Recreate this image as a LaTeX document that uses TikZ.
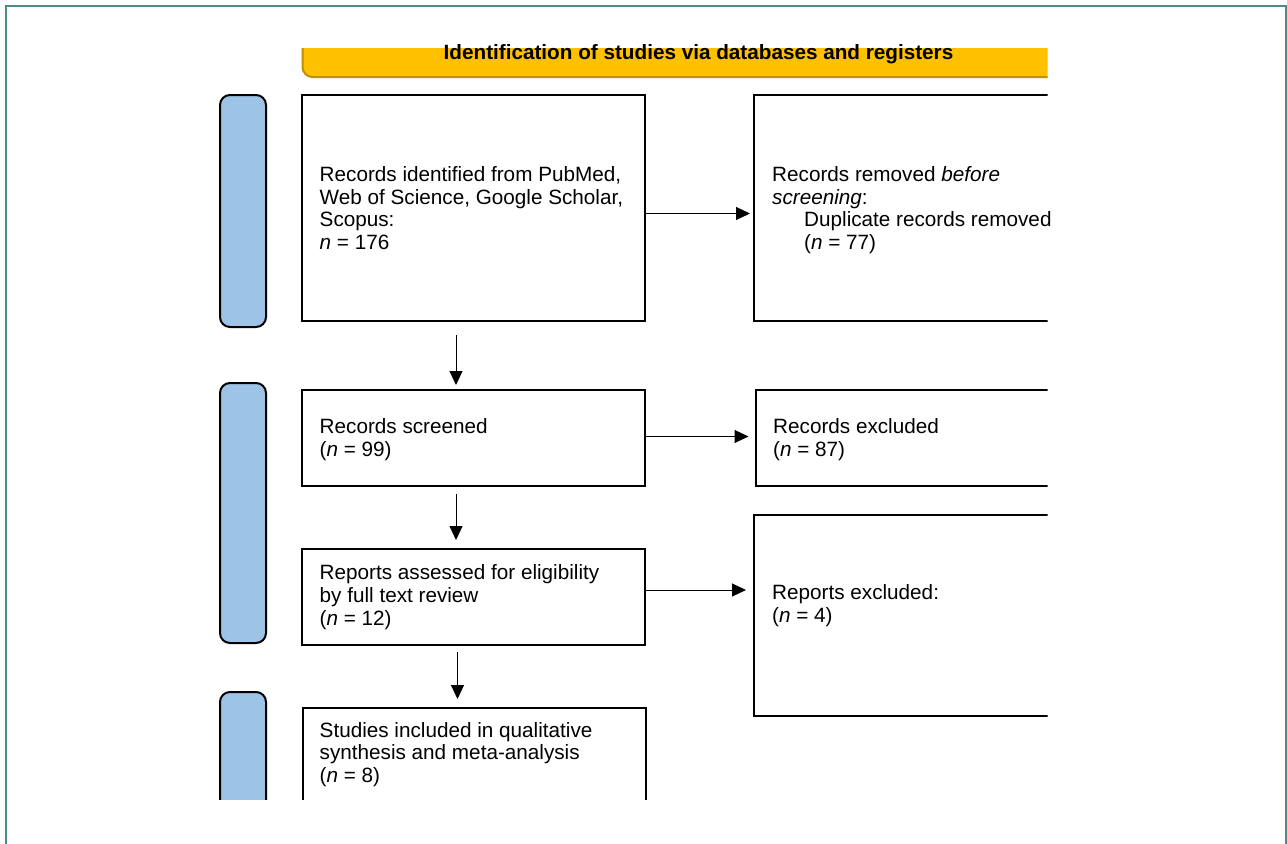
\documentclass[tikz,border=0pt]{standalone}
\usepackage{fontspec}
\setmainfont{Liberation Sans}
\usetikzlibrary{arrows.meta}
\definecolor{frameteal}{RGB}{78,138,136}
\definecolor{banyellow}{RGB}{255,192,0}
\definecolor{bandark}{RGB}{191,144,0}
\definecolor{barblue}{RGB}{157,195,230}
\begin{document}
\begin{tikzpicture}[x=1pt,y=-1pt,
  boxnode/.style={draw=black, line width=2pt, fill=white, inner sep=0pt, anchor=north west},
  barnode/.style={draw=black, line width=2pt, fill=barblue, rounded corners=10pt, inner sep=0pt, anchor=north west, minimum width=46pt},
  txt/.style={anchor=base west, inner sep=0pt, align=left, font=\fontsize{20.7}{22.7}\selectfont},
  arr/.style={line width=1pt, -{Triangle[length=14pt,width=13pt]}}]
\useasboundingbox (0,0) rectangle (1287,843);
% outer frame
\draw[frameteal, line width=2pt] (6,850) -- (6,6) -- (1285.5,6) -- (1285.5,850);
% banner
\begin{scope}
  \clip (0,49) rectangle (1047.5,843);
  \node[draw=bandark, fill=banyellow, line width=2pt, rounded corners=10pt, inner sep=0pt, anchor=north west, minimum width=800pt, minimum height=46pt] (ban) at (301.5,30) {};
\end{scope}
\node[anchor=base, inner sep=0pt, font=\bfseries\fontsize{20.7}{24}\selectfont] (title) at (698.5,59.5) {Identification of studies via databases and registers};
% boxes and bars
\begin{scope}
  \clip (0,0) rectangle (1047.5,799);
  \node[barnode, minimum height=232pt] (bar1) at (219,94) {};
  \node[barnode, minimum height=260pt] (bar2) at (219,382) {};
  \node[barnode, minimum height=200pt] (bar3) at (219,691) {};
  \node[boxnode, minimum width=343pt, minimum height=226pt] (b1) at (301,94) {};
  \node[boxnode, minimum width=400pt, minimum height=226pt] (b2) at (753,94) {};
  \node[boxnode, minimum width=343pt, minimum height=96pt] (b3) at (301,389) {};
  \node[boxnode, minimum width=400pt, minimum height=96pt] (b4) at (754.5,389) {};
  \node[boxnode, minimum width=343pt, minimum height=96pt] (b5) at (301,548) {};
  \node[boxnode, minimum width=400pt, minimum height=201pt] (b6) at (753,514) {};
  \node[boxnode, minimum width=343pt, minimum height=200pt] (b7) at (301.5,706.5) {};
\end{scope}
% texts (anchored at the baseline of their last line)
\node[txt] (t1) at (319.5,249.5) {Records identified from PubMed,\\Web of Science, Google Scholar,\\Scopus:\\\textit{n} = 176};
\node[txt] (t2) at (772,249.5) {Records removed \textit{before}\\\textit{screening}:\\\hspace*{32pt}Duplicate records removed\\\hspace*{32pt}(\textit{n} = 77)};
\node[txt] (t3) at (319.5,456) {Records screened\\(\textit{n} = 99)};
\node[txt] (t4) at (773,456) {Records excluded\\(\textit{n} = 87)};
\node[txt] (t5) at (319.5,625) {Reports assessed for eligibility\\by full text review\\(\textit{n} = 12)};
\node[txt] (t6) at (772,622) {Reports excluded:\\(\textit{n} = 4)};
\node[txt] (t7) at (319.5,782.5) {Studies included in qualitative\\synthesis and meta-analysis\\(\textit{n} = 8)};
% connectors
\draw[arr, shorten >=3pt] ([yshift=-5.5pt]b1.east) -- ([yshift=-5.5pt]b1.east -| b2.west);
\draw[arr, shorten >=6pt] ([yshift=1.5pt]b3.east) -- ([yshift=1.5pt]b3.east -| b4.west);
\draw[arr, shorten >=7pt] ([yshift=7pt]b5.east) -- ([yshift=7pt]b5.east -| b6.west);
\draw[arr, shorten <=13pt, shorten >=4pt] ([xshift=-17.5pt]b1.south) -- ([xshift=-17.5pt]b1.south |- b3.north);
\draw[arr, shorten <=7pt, shorten >=8pt] ([xshift=-17.5pt]b3.south) -- ([xshift=-17.5pt]b3.south |- b5.north);
\draw[arr, shorten <=6pt, shorten >=7.5pt] ([xshift=-16pt]b5.south) -- ([xshift=-16pt]b5.south |- b7.north);
\end{tikzpicture}
\end{document}
